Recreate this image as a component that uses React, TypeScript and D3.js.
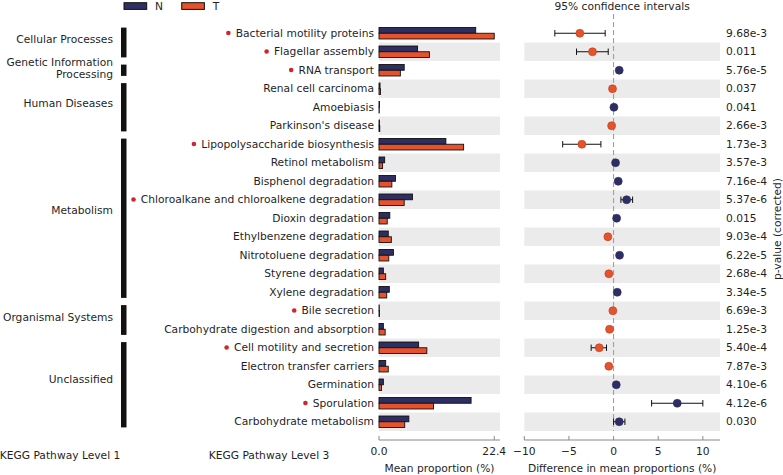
import React, { useEffect, useRef } from 'react';
import * as d3 from 'd3';

const level1Names = ['Cellular Processes', 'Genetic Information|Processing', 'Human Diseases', 'Metabolism', 'Organismal Systems', 'Unclassified'];
const level1Counts = [2, 1, 3, 9, 2, 5];

const pathways = [
  'Bacterial motility proteins', 'Flagellar assembly', 'RNA transport', 'Renal cell carcinoma', 'Amoebiasis',
  "Parkinson's disease", 'Lipopolysaccharide biosynthesis', 'Retinol metabolism', 'Bisphenol degradation',
  'Chloroalkane and chloroalkene degradation', 'Dioxin degradation', 'Ethylbenzene degradation',
  'Nitrotoluene degradation', 'Styrene degradation', 'Xylene degradation', 'Bile secretion',
  'Carbohydrate digestion and absorption', 'Cell motility and secretion', 'Electron transfer carriers',
  'Germination', 'Sporulation', 'Carbohydrate metabolism'
];
const marked = [true, true, true, false, false, false, true, false, false, true, false, false, false, false, false, true, false, true, false, false, true, false];

const meanN = [18.8, 7.5, 4.9, 0.2, 0.1, 0.1, 13.0, 1.1, 3.2, 6.5, 2.1, 1.8, 2.8, 0.85, 2.0, 0.05, 0.85, 7.7, 1.3, 0.85, 17.9, 5.8];
const meanT = [22.4, 9.8, 4.15, 0.3, 0.05, 0.15, 16.45, 0.7, 2.5, 4.9, 1.6, 2.4, 1.9, 1.3, 1.5, 0.1, 1.2, 9.3, 1.8, 0.5, 10.6, 5.0];

const diffVals = [-3.78, -2.36, 0.63, -0.12, 0.04, -0.22, -3.55, 0.22, 0.52, 1.46, 0.34, -0.64, 0.67, -0.53, 0.41, -0.08, -0.45, -1.61, -0.53, 0.3, 7.13, 0.63];
const ciLow = [-6.58, -4.15, 0.45, -0.2, 0.0, -0.3, -5.7, 0.1, 0.35, 0.82, 0.2, -0.8, 0.5, -0.65, 0.28, -0.12, -0.55, -2.51, -0.7, 0.2, 4.26, 0.0];
const ciHigh = [-0.94, -0.6, 0.8, -0.04, 0.08, -0.12, -1.42, 0.32, 0.7, 2.13, 0.5, -0.5, 0.85, -0.4, 0.55, -0.04, -0.35, -0.79, -0.36, 0.4, 10.0, 1.27];

const pValues = ['9.68e-3', '0.011', '5.76e-5', '0.037', '0.041', '2.66e-3', '1.73e-3', '3.57e-3', '7.16e-4', '5.37e-6', '0.015', '9.03e-4', '6.22e-5', '2.68e-4', '3.34e-5', '6.69e-3', '1.25e-3', '5.40e-4', '7.87e-3', '4.10e-6', '4.12e-6', '0.030'];

const barTicks = [0, 22.4];
const diffTicks = [-10, -5, 0, 5, 10];
const groups = ['N', 'T'];

const NAVY = '#2d2e62';
const ORANGE = '#e5522b';
const STRIPE = '#ebebeb';
const TXT = '#1f1f1f';
const FONT = 'DejaVu Sans';
const FS = 10.7;

export default function App() {
  const ref = useRef<SVGSVGElement | null>(null);

  useEffect(() => {
    const svg = d3.select(ref.current);
    svg.selectAll('*').remove();
    svg.attr('font-family', FONT).attr('font-size', FS).attr('fill', TXT);

    const idx = d3.range(pathways.length);
    const y = d3.scaleBand<number>().domain(idx).range([24, 431]);
    const bw = y.bandwidth();
    const cy = (i: number) => (y(i) as number) + bw / 2;

    const xBar = d3.scaleLinear().domain([0, 22.4 * 1.05]).range([379, 500]);
    const xDiff = d3.scaleLinear().domain([-10, 11.92]).range([524.3, 720]);

    // stripes
    const stripes = idx.filter(i => i % 2 === 1);
    svg.append('g').selectAll('rect').data(stripes).join('rect')
      .attr('x', xBar.range()[0]).attr('width', xBar.range()[1] - xBar.range()[0])
      .attr('y', i => y(i) as number).attr('height', bw).attr('fill', STRIPE);
    svg.append('g').selectAll('rect').data(stripes).join('rect')
      .attr('x', xDiff.range()[0]).attr('width', xDiff.range()[1] - xDiff.range()[0])
      .attr('y', i => y(i) as number).attr('height', bw).attr('fill', STRIPE);

    // legend
    const leg = svg.append('g');
    const legX = [124, 181.7];
    groups.forEach((g, k) => {
      leg.append('rect').attr('x', legX[k]).attr('y', 2.7).attr('width', 22.7).attr('height', 6.7)
        .attr('fill', k === 0 ? NAVY : ORANGE).attr('stroke', '#111').attr('stroke-width', 1);
      leg.append('text').attr('x', legX[k] + 31).attr('y', 6.2).attr('dominant-baseline', 'central').text(g);
    });

    // level 1 groups
    let start = 0;
    level1Names.forEach((name, k) => {
      const n = level1Counts[k];
      const top = (y(start) as number) + 3.6;
      const bot = (y(start + n - 1) as number) + bw - 3.6;
      svg.append('rect').attr('x', 121).attr('width', 5.5).attr('y', top).attr('height', bot - top).attr('fill', '#111');
      const mid = (top + bot) / 2 - (0.8 * n + 1);
      const lines = name.split('|');
      const lh = 12.7;
      lines.forEach((ln, j) => {
        svg.append('text').attr('x', 113).attr('y', mid + (j - (lines.length - 1) / 2) * lh)
          .attr('text-anchor', 'end').attr('dominant-baseline', 'central').text(ln);
      });
      start += n;
    });

    // level 3 labels
    const labels = svg.append('g').selectAll('text').data(idx).join('text')
      .attr('x', 374).attr('y', i => cy(i)).attr('text-anchor', 'end').attr('dominant-baseline', 'central')
      .text(i => pathways[i]);
    labels.each(function (i) {
      if (!marked[i]) return;
      const w = (this as SVGTextElement).getComputedTextLength();
      svg.append('circle').attr('cx', 374 - w - 7.3).attr('cy', cy(i) - 0.3).attr('r', 2.3).attr('fill', '#d2252a');
    });

    // bars
    const bh = bw * 0.31;
    const bars = svg.append('g');
    bars.selectAll('rect.n').data(idx).join('rect').attr('class', 'n')
      .attr('x', xBar(0)).attr('y', i => cy(i) - bh).attr('width', i => xBar(meanN[i]) - xBar(0)).attr('height', bh)
      .attr('fill', NAVY).attr('stroke', '#111').attr('stroke-width', 0.9);
    bars.selectAll('rect.t').data(idx).join('rect').attr('class', 't')
      .attr('x', xBar(0)).attr('y', i => cy(i)).attr('width', i => xBar(meanT[i]) - xBar(0)).attr('height', bh)
      .attr('fill', ORANGE).attr('stroke', '#111').attr('stroke-width', 0.9);

    // zero dashed line
    svg.append('line').attr('x1', xDiff(0)).attr('x2', xDiff(0)).attr('y1', 14).attr('y2', 431)
      .attr('stroke', '#9a9a9a').attr('stroke-width', 1).attr('stroke-dasharray', '5,3');

    // CI
    const ci = svg.append('g');
    idx.forEach(i => {
      const x0 = xDiff(ciLow[i]), x1 = xDiff(ciHigh[i]), c = cy(i);
      ci.append('line').attr('x1', x0).attr('x2', x1).attr('y1', c).attr('y2', c).attr('stroke', '#111').attr('stroke-width', 1);
      [x0, x1].forEach(xx => ci.append('line').attr('x1', xx).attr('x2', xx).attr('y1', c - 3.2).attr('y2', c + 3.2).attr('stroke', '#111').attr('stroke-width', 1));
      ci.append('circle').attr('cx', xDiff(diffVals[i])).attr('cy', c).attr('r', 4)
        .attr('fill', diffVals[i] < 0 ? ORANGE : NAVY)
        .attr('stroke', diffVals[i] < 0 ? '#b8401f' : NAVY).attr('stroke-width', 0.6);
    });

    // p-values
    svg.append('g').selectAll('text').data(idx).join('text')
      .attr('x', 726).attr('y', i => cy(i)).attr('dominant-baseline', 'central').text(i => pValues[i]);
    svg.append('text').attr('transform', 'translate(777.5,229) rotate(-90)').attr('text-anchor', 'middle')
      .attr('dominant-baseline', 'central').text('p-value (corrected)');

    // title
    svg.append('text').attr('x', xDiff(0) + 8.5).attr('y', 6.2).attr('text-anchor', 'middle').attr('dominant-baseline', 'central')
      .text('95% confidence intervals');

    // axes
    const axisY = 440;
    const drawAxis = (sc: d3.ScaleLinear<number, number>, ticks: number[], fmt: (v: number) => string) => {
      const g = svg.append('g');
      g.append('line').attr('x1', sc.range()[0]).attr('x2', sc.range()[1]).attr('y1', axisY).attr('y2', axisY)
        .attr('stroke', '#888').attr('stroke-width', 1);
      ticks.forEach(t => {
        g.append('line').attr('x1', sc(t)).attr('x2', sc(t)).attr('y1', axisY - 4).attr('y2', axisY).attr('stroke', '#888');
        g.append('text').attr('x', sc(t)).attr('y', 451.7).attr('text-anchor', 'middle').attr('dominant-baseline', 'central').text(fmt(t));
      });
    };
    drawAxis(xBar, barTicks, v => v.toFixed(1));
    drawAxis(xDiff, diffTicks, v => (v < 0 ? '\u2212' + Math.abs(v) : String(v)));

    svg.append('text').attr('x', (xBar.range()[0] + xBar.range()[1]) / 2).attr('y', 468).attr('text-anchor', 'middle')
      .attr('dominant-baseline', 'central').text('Mean proportion (%)');
    svg.append('text').attr('x', (xDiff.range()[0] + xDiff.range()[1]) / 2).attr('y', 468).attr('text-anchor', 'middle')
      .attr('dominant-baseline', 'central').text('Difference in mean proportions (%)');
    svg.append('text').attr('x', 60).attr('y', 455).attr('text-anchor', 'middle').attr('dominant-baseline', 'central')
      .text('KEGG Pathway Level 1');
    svg.append('text').attr('x', 269).attr('y', 455).attr('text-anchor', 'middle').attr('dominant-baseline', 'central')
      .text('KEGG Pathway Level 3');
  }, []);

  return (
    <svg ref={ref} width={783} height={475} style={{ position: 'absolute', left: 0, top: 0, background: '#fff' }} />
  );
}
